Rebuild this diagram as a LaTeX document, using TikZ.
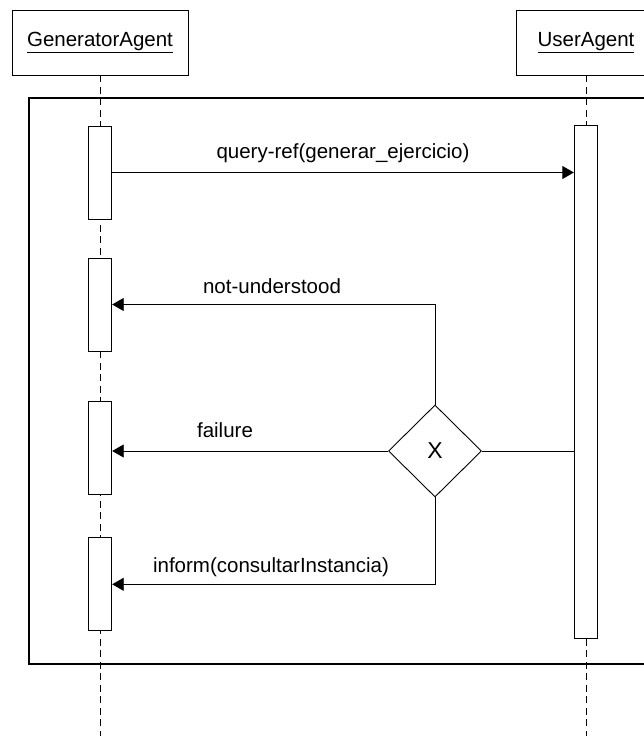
\documentclass[tikz,border=0pt]{standalone}
\usepackage{fontspec}
\setmainfont{Liberation Sans}
\usetikzlibrary{arrows.meta,shapes.geometric}

\begin{document}
\begin{tikzpicture}[x=1pt,y=-1pt,
  every node/.style={font=\fontsize{20.5}{24}\selectfont},
  actor/.style={draw,fill=white,line width=0.9pt,minimum width=176pt,minimum height=65pt,inner sep=0pt},
  activation/.style={draw,fill=white,line width=0.9pt,minimum width=23.5pt,minimum height=93pt,inner sep=0pt},
  lifeline/.style={line width=0.9pt,dash pattern=on 7pt off 4.5pt},
  msg/.style={line width=0.9pt,-{Triangle[length=11.5pt,width=13pt]}},
  plain/.style={line width=0.9pt},
  frame/.style={line width=1.6pt},
  choice/.style={draw,fill=white,diamond,aspect=1,line width=0.9pt,minimum width=93pt,minimum height=92pt,inner sep=0pt,font=\fontsize{23}{26}\selectfont},
  msglabel/.style={anchor=base,inner sep=0pt}]
\useasboundingbox (0,0) rectangle (644,736);
\clip (0,0) rectangle (644,736);
\fill[white] (0,0) rectangle (644,736);

% combined fragment frame (right side runs past the page edge)
\draw[frame] (28.7,97.7) rectangle (665,664);

% participants
\node[actor] (gen) at (100,42.5) {\underline{GeneratorAgent}};
\node[actor,minimum width=140pt] (usr) at (586,42.5) {\underline{UserAgent}};

% lifelines
\coordinate (genEnd) at (100,736);
\coordinate (usrEnd) at (586,736);
\draw[lifeline] (gen.south) -- (genEnd);
\draw[lifeline] (usr.south) -- (usrEnd);

% activation bars
\node[activation] (act1) at (100,172.5) {};
\node[activation] (act2) at (100,304.5) {};
\node[activation] (act3) at (100,448.3) {};
\node[activation] (act4) at (100,584.3) {};
\node[activation,minimum height=513pt] (uact) at (586,382) {};

% decision
\node[choice] (dec) at (435,451) {X};

% messages
\draw[msg] (act1.east) -- (act1.east -| uact.west);
\node[msglabel] (lq) at (343,158) {query-ref(generar\_ejercicio)};

\draw[plain] (uact.west |- dec.east) -- (dec.east);

\draw[msg] (dec.north) |- (act2.east);
\node[msglabel] (ln) at (272,293) {not-understood};

\draw[msg] (dec.west) -- (dec.west -| act3.east);
\node[msglabel] (lf) at (225,437.5) {failure};

\draw[msg] (dec.south) |- (act4.east);
\node[msglabel] (li) at (271,572) {inform(consultarInstancia)};
\end{tikzpicture}
\end{document}
